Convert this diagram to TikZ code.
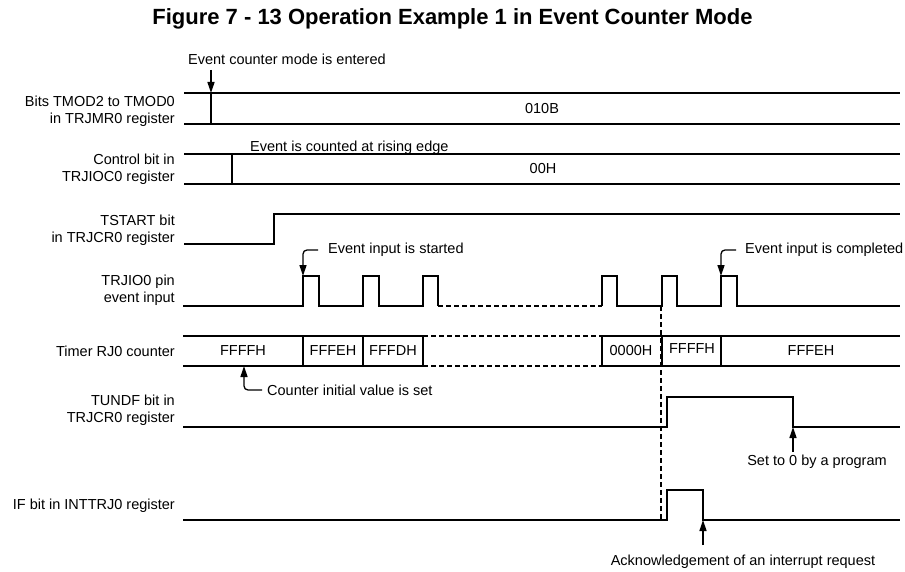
\documentclass[tikz,border=0pt]{standalone}
\usepackage{fontspec}
\setmainfont{Liberation Sans}
\usetikzlibrary{arrows.meta}
\begin{document}
\begin{tikzpicture}[x=1pt,y=-1pt,
  sig/.style={line width=1.3pt},
  dsh/.style={line width=1.8pt, dash pattern=on 5pt off 3pt},
  lbl/.style={anchor=east, align=right, font=\fontsize{14.5}{17}\selectfont, inner sep=0pt},
  txt/.style={font=\fontsize{14.5}{17}\selectfont, inner sep=0pt},
  arr/.style={line width=1.3pt, -{Triangle[length=11pt,width=7pt]}},
]
\useasboundingbox[fill=white] (0,0) rectangle (905,572);

% title
\node[font=\bfseries\fontsize{22}{26}\selectfont] (title) at (452.5,19) {Figure 7 - 13 Operation Example 1 in Event Counter Mode};

% row 1: TMOD
\node[lbl] (l1) at (175,111) {Bits TMOD2 to TMOD0\\in TRJMR0 register};
\draw[sig] (184,93) -- (900,93);
\draw[sig] (184,124) -- (900,124);
\draw[sig] (211,93) -- (211,124);
\node[txt] (v1) at (542,109) {010B};
\node[txt,anchor=west] (n1) at (188,59) {Event counter mode is entered};
\coordinate (a1s) at (211,70); \coordinate (a1e) at (211,93);
\draw[arr] (a1s) -- (a1e);

% row 2: control bit
\node[lbl] (l2) at (175,169.5) {Control bit in\\TRJIOC0 register};
\draw[sig] (184,154) -- (900,154);
\draw[sig] (184,184) -- (900,184);
\draw[sig] (232,154) -- (232,184);
\node[txt] (v2) at (543,169) {00H};
\node[txt,anchor=west] (n2) at (250,148) {Event is counted at rising edge};

% row 3: TSTART
\node[lbl] (l3) at (175,230.5) {TSTART bit\\in TRJCR0 register};
\draw[sig] (184,244) -- (274,244) -- (274,214) -- (900,214);

% row 4: TRJIO0
\node[lbl] (l4) at (175,290.5) {TRJIO0 pin\\event input};
\draw[sig] (183,306) -- (303,306) -- (303,276) -- (319,276) -- (319,306)
  -- (363,306) -- (363,276) -- (379,276) -- (379,306)
  -- (423,306) -- (423,276) -- (438,276) -- (438,306);
\draw[dsh] (438,306) -- (602,306);
\draw[sig] (602,306) -- (602,276) -- (617,276) -- (617,306)
  -- (662,306) -- (662,276) -- (677,276) -- (677,306)
  -- (721,306) -- (721,276) -- (737,276) -- (737,306) -- (900,306);
\coordinate (c4s) at (318,250); \coordinate (c4e) at (303,276);
\draw[arr, rounded corners=4pt] (c4s) -| (c4e);
\node[txt,anchor=west] (n4) at (328,250) {Event input is started};
\coordinate (c5s) at (736,250); \coordinate (c5e) at (721,276);
\draw[arr, rounded corners=4pt] (c5s) -| (c5e);
\node[txt,anchor=west] (n5) at (745,250) {Event input is completed};

% row 5: timer
\node[lbl] (l5) at (175,351) {Timer RJ0 counter};
\draw[sig] (183,336) -- (423,336);
\draw[sig] (183,366) -- (423,366);
\draw[dsh] (423,336) -- (602,336);
\draw[dsh] (423,366) -- (602,366);
\draw[sig] (602,336) -- (900,336);
\draw[sig] (602,366) -- (900,366);
\foreach \xx in {303,363,423,602,662,721} \draw[sig] (\xx,336) -- (\xx,366);
\node[txt] (t1) at (243,351) {FFFFH};
\node[txt] (t2) at (333,351) {FFFEH};
\node[txt] (t3) at (393,351) {FFFDH};
\node[txt] (t4) at (631,351) {0000H};
\node[txt] (t5) at (692,349) {FFFFH};
\node[txt] (t6) at (811,351) {FFFEH};
\coordinate (c6s) at (262,390); \coordinate (c6e) at (244,366);
\draw[arr, rounded corners=4pt] (c6s) -| (c6e);
\node[txt,anchor=west] (n6) at (267,390) {Counter initial value is set};

% row 6: TUNDF
\node[lbl] (l6) at (175,410.5) {TUNDF bit in\\TRJCR0 register};
\draw[sig] (183,427) -- (667,427) -- (667,397) -- (793,397) -- (793,427) -- (900,427);
\coordinate (a7s) at (793,452); \coordinate (a7e) at (793,427);
\draw[arr] (a7s) -- (a7e);
\node[txt] (n7) at (817,462) {Set to 0 by a program};

% row 7: IF
\node[lbl] (l7) at (175,506) {IF bit in INTTRJ0 register};
\draw[sig] (183,520) -- (667,520) -- (667,490) -- (703,490) -- (703,520) -- (900,520);
\coordinate (a8s) at (703,545); \coordinate (a8e) at (703,520);
\draw[arr] (a8s) -- (a8e);
\node[txt] (n8) at (743,562) {Acknowledgement of an interrupt request};

% dashed underflow line
\coordinate (d1) at (661,306); \coordinate (d2) at (661,520);
\draw[dsh] (d1) -- (d2);
\end{tikzpicture}
\end{document}
